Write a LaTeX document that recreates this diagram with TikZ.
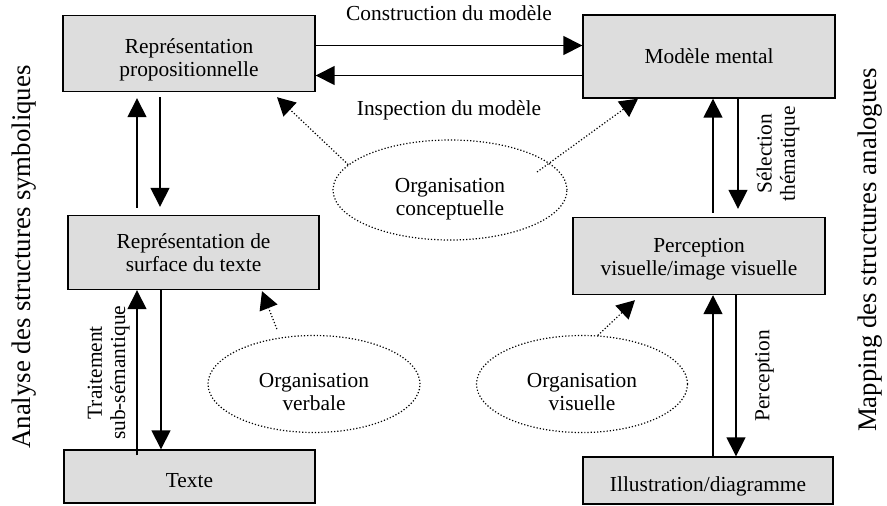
\documentclass[tikz,border=0pt]{standalone}
\usepackage{fontspec}
\setmainfont{Liberation Serif}
\usetikzlibrary{shapes.geometric, arrows.meta, calc, positioning}
\definecolor{boxgray}{RGB}{221,221,221}
\tikzstyle{block} = [rectangle, line width=0.7pt, fill=boxgray, draw=black, text centered, align=center, inner sep=0pt]
\tikzstyle{oval} = [ellipse, line width=0.6pt, densely dotted, draw=black, inner sep=0pt]
\tikzstyle{arrow} = [line width=0.75pt, -{Triangle[width=9.5pt,length=9.5pt]}]
\tikzstyle{dotarrow} = [line width=0.6pt, densely dotted, -{Triangle[width=9.5pt,length=9pt]}]
\tikzstyle{side} = [rotate=90, font=\fontsize{13.4pt}{16pt}\selectfont]

\begin{document}
\begin{tikzpicture}[x=0.5pt, y=-0.5pt, font=\fontsize{10.7pt}{11.6pt}\selectfont]
		\useasboundingbox (0,0) rectangle (887,505);
		\node (prop) [block, minimum width=126pt, minimum height=38pt, label={[align=center, yshift=-3pt]center:{Représentation\\propositionnelle}}] at (189,53.5) {};
		\node (mental) [block, minimum width=126pt, minimum height=41.5pt] at (709,56.5) {Modèle mental};
		\node (surf) [block, minimum width=125.5pt, minimum height=37pt] at (193.5,252.5) {Représentation de\\surface du texte};
		\node (perc) [block, minimum width=126pt, minimum height=38.5pt, label={[align=center, yshift=-1.5pt]center:{Perception\\visuelle/image visuelle}}] at (699,256) {};
		\node (texte) [block, minimum width=125.5pt, minimum height=26.5pt, label={[yshift=-2pt]center:Texte}] at (189.5,476.5) {};
		\node (illus) [block, minimum width=125pt, minimum height=23.5pt, label={[yshift=-3pt]center:Illustration/diagramme}] at (708,480.5) {};
		\node (concept) [oval, minimum width=117pt, minimum height=50pt, label={[align=center, yshift=-4.5pt]center:{Organisation\\conceptuelle}}] at (450,190) {};
		\node (verbale) [oval, minimum width=106pt, minimum height=48.5pt, label={[align=center, yshift=-4pt]center:{Organisation\\verbale}}] at (314,384) {};
		\node (visuelle) [oval, minimum width=105.5pt, minimum height=48.5pt, label={[align=center, yshift=-4pt]center:{Organisation\\visuelle}}] at (582,384) {};
		\node (analyse) [side] at (24,257) {Analyse des structures symboliques};
		\node (mapping) [side] at (870,250) {Mapping des structures analogues};
		\draw [arrow] ([yshift=4pt]prop.east) -- ([yshift=4pt]prop.east -| mental.west) node[midway, above=8.5pt] (constr) {Construction du modèle};
		\draw [arrow] ([yshift=-11pt]prop.east -| mental.west) -- ([yshift=-11pt]prop.east) node[midway, below=8.7pt] (insp) {Inspection du modèle};
		\draw [arrow] ([shift={(-56.5,-7)}]surf.north) -- ([shift={(-52,6)}]prop.south);
		\draw [arrow] ([shift={(-29,5)}]prop.south) -- ([shift={(-33.5,-8)}]surf.north);
		\draw [arrow] ([shift={(-52.5,6)}]texte.north) -- node[midway, anchor=south, rotate=90, align=center] (trait) {Traitement\\sub-sémantique} ([shift={(-56.5,0)}]surf.south);
		\draw [arrow] ([shift={(-32.5,0)}]surf.south) -- ([shift={(-28.5,0)}]texte.north);
		\draw [arrow] ([shift={(14,-4)}]perc.north) -- ([shift={(4,0)}]mental.south);
		\draw [arrow] ([shift={(29,0)}]mental.south) -- node[midway, anchor=north, rotate=90, align=center, outer sep=6pt] (selec) {Sélection\\thématique} ([shift={(39,-8)}]perc.north);
		\draw [arrow] ([shift={(5,0)}]illus.north) -- ([shift={(14,0)}]perc.south);
		\draw [arrow] ([shift={(37,0)}]perc.south) -- node[midway, anchor=north, rotate=90, outer sep=6.3pt] (percep) {Perception} ([shift={(28,0)}]illus.north);
		\draw [dotarrow] (concept.166) -- ([shift={(88,5)}]prop.south);
		\draw [dotarrow] ([shift={(87,-18)}]concept.center) -- ([shift={(-71,0)}]mental.south);
		\draw [dotarrow, shorten <=4.5pt] (verbale.126) -- ([shift={(68.5,1)}]surf.south);
		\draw [dotarrow] (visuelle.72) -- ([shift={(-64,5)}]perc.south);
\end{tikzpicture}
\end{document}
